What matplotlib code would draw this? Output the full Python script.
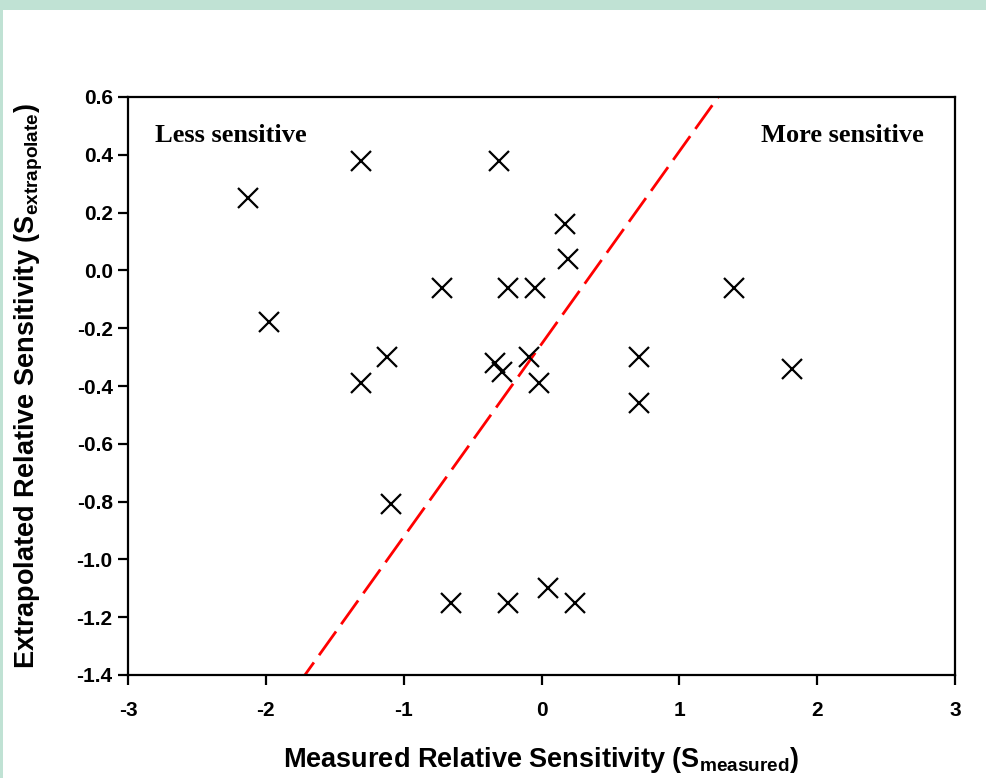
import numpy as np
import matplotlib
matplotlib.use("Agg")
import matplotlib.pyplot as plt
from matplotlib.patches import Rectangle

plt.rcParams['font.family'] = ['Liberation Sans', 'DejaVu Sans']
plt.rcParams['mathtext.fontset'] = 'custom'
plt.rcParams['mathtext.rm'] = 'Liberation Sans:bold'
plt.rcParams['mathtext.bf'] = 'Liberation Sans:bold'

# measured vs extrapolated relative sensitivity
s_measured = [-2.13, -1.98, -1.31, -1.31, -1.12, -1.09, -0.72, -0.66,
              -0.31, -0.34, -0.29, -0.24, -0.24, -0.09, -0.05, -0.02,
              0.05, 0.17, 0.19, 0.24, 0.71, 0.71, 1.40, 1.82]
s_extrapolate = [0.25, -0.18, 0.38, -0.39, -0.30, -0.81, -0.06, -1.15,
                 0.38, -0.32, -0.35, -0.06, -1.15, -0.30, -0.06, -0.39,
                 -1.10, 0.16, 0.04, -1.15, -0.30, -0.46, -0.06, -0.34]

# dividing line
slope = 0.667
intercept = -0.255

xticks = [-3, -2, -1, 0, 1, 2, 3]
yticks = np.round(np.arange(-1.4, 0.61, 0.2), 1)

fig = plt.figure(figsize=(9.87, 7.78), dpi=100)
fig.patch.set_facecolor('white')
# light green frame along the top and left edges
fig.patches.append(Rectangle((0, 1 - 10 / 778), 1, 10 / 778, transform=fig.transFigure,
                             facecolor='#c0e2d4', edgecolor='none', zorder=0))
fig.patches.append(Rectangle((0, 0), 3 / 987, 1, transform=fig.transFigure,
                             facecolor='#c0e2d4', edgecolor='none', zorder=0))

ax = fig.add_axes([128 / 987, 103 / 778, 827 / 987, 578 / 778])

ax.plot(s_measured, s_extrapolate, linestyle='none', marker='x', ms=15,
        mew=1.6, color='black', zorder=3)

line_x = np.array(xticks[::len(xticks) - 1], dtype=float)
ax.plot(line_x, slope * line_x + intercept, color='#ff0000', lw=2,
        linestyle=(0, (10.5, 3.2)), zorder=2)

ax.set_xlim(-3, 3)
ax.set_ylim(-1.4, 0.6)
ax.set_xticks(xticks)
ax.set_yticks(yticks)
ax.set_xticklabels([str(t) for t in xticks])
ax.set_yticklabels([f"{t + 0.0:.1f}" if abs(t) > 1e-9 else "0.0" for t in yticks])

for sp in ax.spines.values():
    sp.set_linewidth(1.6)
ax.tick_params(direction='out', length=7, width=1.6, labelsize=15, pad=4)
for lbl in ax.get_xticklabels() + ax.get_yticklabels():
    lbl.set_fontweight('bold')
ax.tick_params(axis='x', pad=12)

ax.set_xlabel(r'Measured Relative Sensitivity (S$_{\mathbf{measured}}$)',
              fontsize=19.5, fontweight='bold', labelpad=18)
ax.set_ylabel(r'Extrapolated Relative Sensitivity (S$_{\mathbf{extrapolate}}$)',
              fontsize=19.5, fontweight='bold', labelpad=23)

ax.text(0.033, 0.933, 'Less sensitive', transform=ax.transAxes,
        family='Liberation Serif', fontweight='bold', fontsize=19,
        ha='left', va='center')
ax.text(0.9625, 0.933, 'More sensitive', transform=ax.transAxes,
        family='Liberation Serif', fontweight='bold', fontsize=19,
        ha='right', va='center')

fig.savefig('out.png', dpi=100, facecolor='white')
